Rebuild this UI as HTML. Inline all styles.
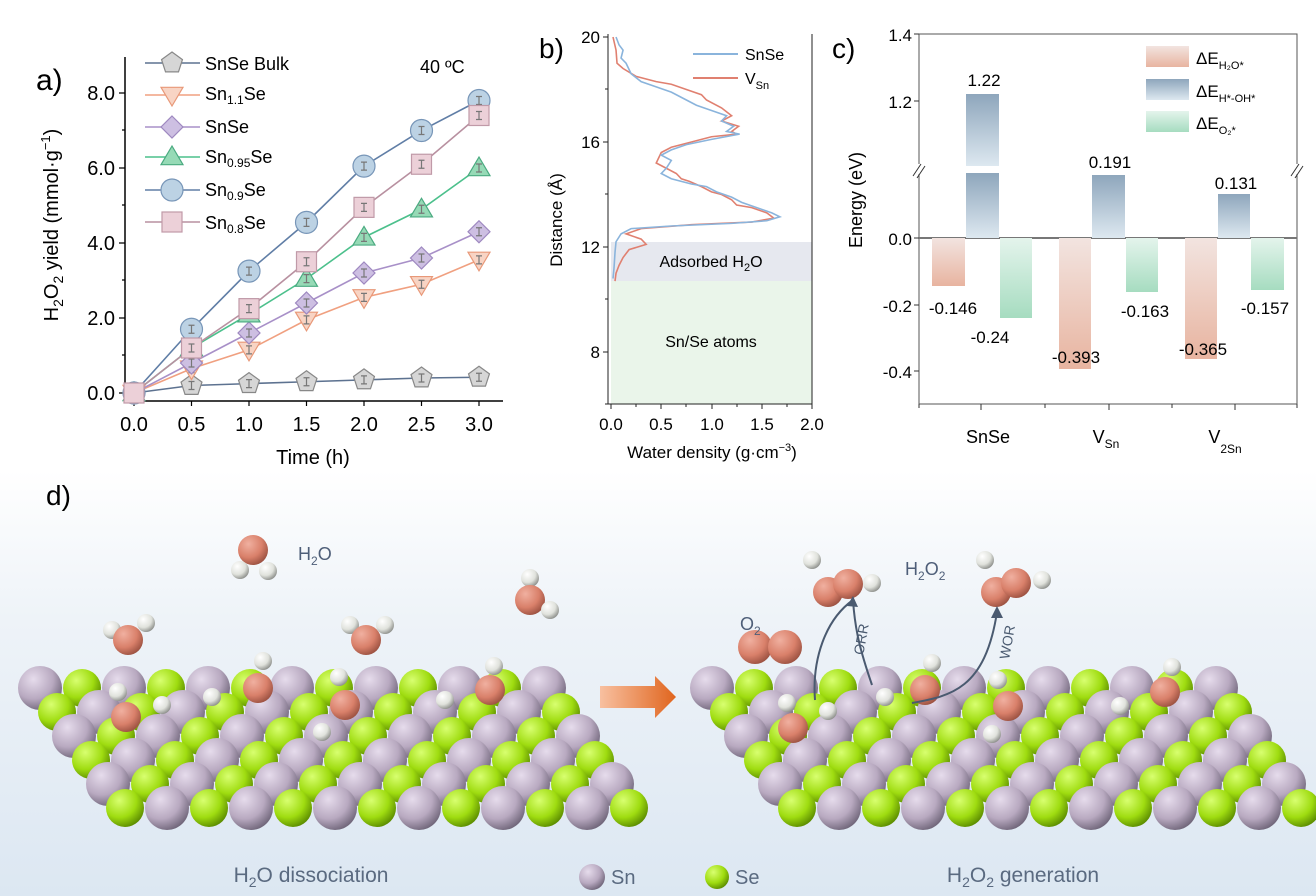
<!DOCTYPE html>
<html><head><meta charset="utf-8"><style>
html,body{margin:0;padding:0;background:#fff;}
svg{display:block;font-family:"Liberation Sans",sans-serif;}
</style></head><body>
<svg id="s" width="1316" height="896" viewBox="0 0 1316 896" xmlns="http://www.w3.org/2000/svg">
<defs>
<linearGradient id="bg" x1="0" y1="0" x2="0" y2="1">
<stop offset="0" stop-color="#ffffff"/><stop offset="0.35" stop-color="#eef3f8"/><stop offset="1" stop-color="#dce7f2"/></linearGradient>
<radialGradient id="gSn" cx="0.35" cy="0.3" r="0.75"><stop offset="0" stop-color="#e6dcec"/><stop offset="0.6" stop-color="#b8a9c0"/><stop offset="1" stop-color="#6e6478"/></radialGradient>
<radialGradient id="gSe" cx="0.35" cy="0.3" r="0.75"><stop offset="0" stop-color="#d8ff70"/><stop offset="0.6" stop-color="#9fdc10"/><stop offset="1" stop-color="#5a8a00"/></radialGradient>
<radialGradient id="gO" cx="0.35" cy="0.3" r="0.75"><stop offset="0" stop-color="#f0b0a0"/><stop offset="0.6" stop-color="#d9806a"/><stop offset="1" stop-color="#9a5040"/></radialGradient>
<radialGradient id="gH" cx="0.35" cy="0.3" r="0.75"><stop offset="0" stop-color="#ffffff"/><stop offset="0.6" stop-color="#e0e2dc"/><stop offset="1" stop-color="#8a8c88"/></radialGradient>
<linearGradient id="bo" x1="0" y1="0" x2="0" y2="1"><stop offset="0" stop-color="#f2e4e0"/><stop offset="1" stop-color="#e8b4a0"/></linearGradient>
<linearGradient id="bb" x1="0" y1="0" x2="0" y2="1"><stop offset="0" stop-color="#8ea6bc"/><stop offset="1" stop-color="#dde8f0"/></linearGradient>
<linearGradient id="bgr" x1="0" y1="0" x2="0" y2="1"><stop offset="0" stop-color="#e4f4ec"/><stop offset="1" stop-color="#a6dcc0"/></linearGradient>
<linearGradient id="arr" x1="0" y1="0" x2="1" y2="0"><stop offset="0" stop-color="#f8c0a0"/><stop offset="1" stop-color="#e0651e"/></linearGradient>
</defs>
<rect x="0" y="470" width="1316" height="426" fill="url(#bg)"/>

<!-- Panel a -->
<text x="36" y="90" font-size="30">a)</text>
<g stroke="#000" stroke-width="1.5" fill="none">
<path d="M125,57 V401 H503"/>
</g>
<g stroke="#000" stroke-width="1.2">
<path d="M125,393 h-6 M125,318 h-6 M125,243 h-6 M125,168 h-6 M125,93 h-6 M125,355 h-3 M125,280 h-3 M125,205 h-3 M125,130 h-3"/>
<path d="M134,401 v5 M191.5,401 v5 M249,401 v5 M306.5,401 v5 M364,401 v5 M421.5,401 v5 M479,401 v5"/>
</g>
<g font-size="20" text-anchor="end">
<text x="115" y="400">0.0</text><text x="115" y="325">2.0</text><text x="115" y="250">4.0</text><text x="115" y="175">6.0</text><text x="115" y="100">8.0</text>
</g>
<g font-size="20" text-anchor="middle">
<text x="134" y="431">0.0</text><text x="191.5" y="431">0.5</text><text x="249" y="431">1.0</text><text x="306.5" y="431">1.5</text><text x="364" y="431">2.0</text><text x="421.5" y="431">2.5</text><text x="479" y="431">3.0</text>
<text x="313" y="464">Time (h)</text>
</g>
<text transform="translate(58,225) rotate(-90)" font-size="20" text-anchor="middle">H<tspan font-size="14" dy="5">2</tspan><tspan dy="-5">O</tspan><tspan font-size="14" dy="5">2</tspan><tspan dy="-5"> yield (mmol·g</tspan><tspan font-size="13" dy="-8">−1</tspan><tspan dy="8">)</tspan></text>
<text x="420" y="73" font-size="18">40 ºC</text>
<g id="aseries"></g>
<g font-size="18">
<text x="205" y="70">SnSe Bulk</text>
<text x="205" y="100">Sn<tspan font-size="12" dy="4">1.1</tspan><tspan dy="-4">Se</tspan></text>
<text x="205" y="133">SnSe</text>
<text x="205" y="163">Sn<tspan font-size="12" dy="4">0.95</tspan><tspan dy="-4">Se</tspan></text>
<text x="205" y="196">Sn<tspan font-size="12" dy="4">0.9</tspan><tspan dy="-4">Se</tspan></text>
<text x="205" y="229">Sn<tspan font-size="12" dy="4">0.8</tspan><tspan dy="-4">Se</tspan></text>
</g>

<!-- Panel b -->
<text x="539" y="58" font-size="28">b)</text>
<rect x="611" y="242" width="201" height="39" fill="#e6e8ef"/>
<rect x="611" y="281" width="201" height="123" fill="#eaf5ea"/>
<g stroke="#222" stroke-width="1" fill="none"><path d="M608,34 V404 H812 V34"/></g>
<g stroke="#222" stroke-width="1">
<path d="M608,37 h-5 M608,142 h-5 M608,247 h-5 M608,352 h-5 M608,89 h-3 M608,194 h-3 M608,299 h-3 M608,404 h-3"/>
<path d="M611,404 v5 M661,404 v5 M712,404 v5 M762,404 v5 M812,404 v5 M636,404 v3 M686,404 v3 M737,404 v3 M787,404 v3"/>
</g>
<g font-size="17" text-anchor="end"><text x="600" y="43">20</text><text x="600" y="148">16</text><text x="600" y="253">12</text><text x="600" y="358">8</text></g>
<g font-size="17" text-anchor="middle"><text x="611" y="430">0.0</text><text x="661" y="430">0.5</text><text x="712" y="430">1.0</text><text x="762" y="430">1.5</text><text x="812" y="430">2.0</text>
<text x="712" y="458">Water density (g·cm<tspan font-size="11" dy="-7">−3</tspan><tspan dy="7">)</tspan></text></g>
<text transform="translate(562,220) rotate(-90)" font-size="17" text-anchor="middle">Distance (Å)</text>
<polyline id="redc" fill="none" stroke="#e08070" stroke-width="1.6"/>
<polyline id="bluec" fill="none" stroke="#8ab4dc" stroke-width="1.6"/>
<line x1="693" y1="54" x2="738" y2="54" stroke="#8ab4dc" stroke-width="2"/>
<line x1="693" y1="78" x2="738" y2="78" stroke="#e08070" stroke-width="2"/>
<text x="745" y="60" font-size="16">SnSe</text>
<text x="745" y="84" font-size="16">V<tspan font-size="11" dy="5">Sn</tspan></text>
<text x="711" y="267" font-size="16" text-anchor="middle">Adsorbed H<tspan font-size="11" dy="4">2</tspan><tspan dy="-4">O</tspan></text>
<text x="711" y="347" font-size="16" text-anchor="middle">Sn/Se atoms</text>

<!-- Panel c -->
<text x="832" y="58" font-size="28">c)</text>
<g stroke="#555" stroke-width="1" fill="none"><path d="M919,34 V404 H1297 V34 H919"/></g>
<line x1="919" y1="238" x2="1297" y2="238" stroke="#777" stroke-width="2"/>
<g stroke="#333" stroke-width="1">
<path d="M919,34 h-5 M919,101 h-5 M919,238 h-5 M919,305 h-5 M919,371 h-5"/>
<path d="M981,404 v6 M1109,404 v6 M1235,404 v6 M919,404 v4 M1045,404 v4 M1172,404 v4 M1297,404 v4"/>
</g>
<rect x="912" y="164" width="14" height="10" fill="#fff"/><rect x="1290" y="164" width="14" height="10" fill="#fff"/>
<path d="M913,176 l8,-12 M917,178 l8,-12 M1291,176 l8,-12 M1295,178 l8,-12" stroke="#333" stroke-width="1"/>
<g font-size="17" text-anchor="end"><text x="912" y="41">1.4</text><text x="912" y="108">1.2</text><text x="912" y="245">0.0</text><text x="912" y="312">-0.2</text><text x="912" y="378">-0.4</text></g>
<text transform="translate(862,200) rotate(-90)" font-size="18" text-anchor="middle">Energy (eV)</text>
<g>
<rect x="932" y="238" width="33" height="48" fill="url(#bo)"/>
<rect x="966" y="94" width="33" height="72" fill="url(#bb)"/>
<rect x="966" y="173" width="33" height="65" fill="url(#bb)"/>
<rect x="1000" y="238" width="32" height="80" fill="url(#bgr)"/>
<rect x="1059" y="238" width="32" height="131" fill="url(#bo)"/>
<rect x="1092" y="175" width="33" height="63" fill="url(#bb)"/>
<rect x="1126" y="238" width="32" height="54" fill="url(#bgr)"/>
<rect x="1185" y="238" width="32" height="121" fill="url(#bo)"/>
<rect x="1218" y="194" width="32" height="44" fill="url(#bb)"/>
<rect x="1251" y="238" width="33" height="52" fill="url(#bgr)"/>
</g>
<g font-size="17" text-anchor="middle">
<text x="984" y="86">1.22</text><text x="1110" y="168">0.191</text><text x="1236" y="189">0.131</text>
<text x="953" y="314">-0.146</text><text x="990" y="343">-0.24</text><text x="1076" y="363">-0.393</text>
<text x="1145" y="317">-0.163</text><text x="1203" y="355">-0.365</text><text x="1265" y="314">-0.157</text>
</g>
<g font-size="18" text-anchor="middle">
<text x="988" y="443">SnSe</text>
<text x="1106" y="443">V<tspan font-size="12" dy="5">Sn</tspan></text>
<text x="1225" y="443">V<tspan font-size="12" dy="10">2Sn</tspan></text>
</g>
<rect x="1146" y="46" width="43" height="21" fill="url(#bo)"/>
<rect x="1146" y="79" width="43" height="21" fill="url(#bb)"/>
<rect x="1146" y="111" width="43" height="21" fill="url(#bgr)"/>
<g font-size="17">
<text x="1196" y="64">ΔE<tspan font-size="11" dy="5">H₂O*</tspan></text>
<text x="1196" y="97">ΔE<tspan font-size="11" dy="5">H*-OH*</tspan></text>
<text x="1196" y="129">ΔE<tspan font-size="11" dy="5">O₂*</tspan></text>
</g>

<!-- Panel d -->
<text x="46" y="505" font-size="28">d)</text>
<g id="slabs"></g>
<path d="M600,686 H655 V676 L676,697 L655,718 V708 H600 Z" fill="url(#arr)"/>
<g id="mols"></g>
<g fill="none" stroke="#4a5a70" stroke-width="2">
<path d="M815,700 C812,660 825,620 853,600"/><path d="M872,685 C860,650 855,630 853,600"/>
<path d="M912,703 C950,696 985,690 997,612"/>
</g>
<path d="M847,606 L853,596 L858,607 Z M991,618 L997,606 L1003,618 Z" fill="#4a5a70"/>
<text transform="translate(866,640) rotate(-80)" font-size="14" fill="#4a5a70" text-anchor="middle">ORR</text>
<text transform="translate(1012,643) rotate(-80)" font-size="14" fill="#4a5a70" text-anchor="middle">WOR</text>
<g font-size="18" fill="#4e5e78">
<text x="298" y="560">H<tspan font-size="12" dy="5">2</tspan><tspan dy="-5">O</tspan></text>
<text x="740" y="630">O<tspan font-size="12" dy="5">2</tspan></text>
<text x="905" y="575">H<tspan font-size="12" dy="5">2</tspan><tspan dy="-5">O</tspan><tspan font-size="12" dy="5">2</tspan></text>
</g>
<g font-size="21" fill="#5a6a80" text-anchor="middle">
<text x="311" y="882">H<tspan font-size="14" dy="5">2</tspan><tspan dy="-5">O dissociation</tspan></text>
<text x="1023" y="882">H<tspan font-size="14" dy="5">2</tspan><tspan dy="-5">O</tspan><tspan font-size="14" dy="5">2</tspan><tspan dy="-5"> generation</tspan></text>
</g>
<circle cx="592" cy="877" r="13" fill="url(#gSn)"/><text x="611" y="884" font-size="20" fill="#5a6a80">Sn</text>
<circle cx="717" cy="877" r="12" fill="url(#gSe)"/><text x="735" y="884" font-size="20" fill="#5a6a80">Se</text>
</svg>
<script>
var NS="http://www.w3.org/2000/svg";
function el(p,t,a){var e=document.createElementNS(NS,t);for(var k in a)e.setAttribute(k,a[k]);p.appendChild(e);return e;}
var g=document.getElementById("aseries");
var X=function(t){return 134+t*115;},Y=function(v){return 393-v*37.5;};
var ser=[
["bulk","#5d7290","#d6d6d6","#888",[0,0.2,0.25,0.3,0.35,0.4,0.42]],
["tri","#f0a080","#f8d4c4","#e89878",[0,0.65,1.15,1.95,2.55,2.9,3.55]],
["dia","#a890c8","#cdbfe2","#9e88c0",[0,0.8,1.6,2.4,3.2,3.6,4.3]],
["up","#4cc08c","#96dab6","#4aaa80",[0,1.2,2.1,3.05,4.15,4.9,6.0]],
["cir","#607ea6","#bcd2e4","#7896b8",[0,1.7,3.25,4.55,6.05,7.0,7.8]],
["sq","#b890a0","#ecd0d8","#c09aa8",[0,1.2,2.25,3.5,4.95,6.1,7.4]]];
var legY=[63,95,127,157,190,222];
function marker(p,shape,x,y,f,s){var r=11;
 if(shape=="cir")el(p,"circle",{cx:x,cy:y,r:r,fill:f,stroke:s,"stroke-width":1.2});
 else if(shape=="sq")el(p,"rect",{x:x-r+1,y:y-r+1,width:2*r-2,height:2*r-2,fill:f,stroke:s,"stroke-width":1.2});
 else{var pts;
  if(shape=="bulk"){pts=[];for(var i=0;i<5;i++){var a=-Math.PI/2+i*2*Math.PI/5;pts.push((x+r*Math.cos(a))+","+(y+r*Math.sin(a)));}}
  else if(shape=="tri")pts=[(x-r)+","+(y-r*0.7),(x+r)+","+(y-r*0.7),x+","+(y+r*1.0)];
  else if(shape=="up")pts=[(x-r)+","+(y+r*0.7),(x+r)+","+(y+r*0.7),x+","+(y-r*1.0)];
  else pts=[x+","+(y-r),(x+r)+","+y,x+","+(y+r),(x-r)+","+y];
  el(p,"polygon",{points:pts.join(" "),fill:f,stroke:s,"stroke-width":1.2});}
}
ser.forEach(function(S,i){
 var pts=S[4].map(function(v,j){return X(j*0.5)+","+Y(v);}).join(" ");
 el(g,"polyline",{points:pts,fill:"none",stroke:S[1],"stroke-width":1.6});
});
ser.forEach(function(S,i){
 S[4].forEach(function(v,j){marker(g,S[0],X(j*0.5),Y(v),S[2],S[3]);
  if(j>0)el(g,"path",{d:"M"+(X(j*0.5)-3)+","+(Y(v)-4)+"h6M"+X(j*0.5)+","+(Y(v)-4)+"v8M"+(X(j*0.5)-3)+","+(Y(v)+4)+"h6",stroke:"#777","stroke-width":1.2});});
 el(g,"line",{x1:145,x2:200,y1:legY[i],y2:legY[i],stroke:S[1],"stroke-width":1.6});
 marker(g,S[0],172,legY[i],S[2],S[3]);
});
function bx(d){return 611+d*100.5;}function by(D){return 37+(20-D)*26.25;}
function setc(id,arr){var s=[];for(var i=0;i<arr.length;i+=2)s.push(bx(arr[i])+","+by(arr[i+1]));document.getElementById(id).setAttribute("points",s.join(" "));}
setc("bluec",[0.05,20,0.08,19.7,0.12,19.5,0.1,19.2,0.15,19,0.2,18.6,0.3,18.3,0.45,18.1,0.6,17.9,0.7,17.7,0.85,17.4,1.0,17.2,1.15,17.0,1.1,16.8,1.22,16.6,1.15,16.4,1.28,16.3,1.0,16.1,0.75,15.9,0.6,15.7,0.5,15.5,0.6,15.3,0.55,15.0,0.5,14.8,0.6,14.6,0.8,14.4,0.95,14.3,1.05,14.1,1.2,13.9,1.3,13.7,1.45,13.5,1.6,13.3,1.68,13.15,1.55,13.0,1.2,12.9,0.6,12.8,0.2,12.7,0.1,12.5,0.05,12.2,0.04,11.8,0.03,11.2,0.02,10.8]);
setc("redc",[0.02,20,0.05,19.5,0.06,19,0.12,18.8,0.25,18.5,0.45,18.3,0.6,18.2,0.75,18.0,0.9,17.8,0.95,17.6,1.1,17.3,1.2,17.0,1.1,16.8,1.27,16.6,1.2,16.4,1.25,16.3,1.0,16.2,0.8,16.0,0.6,15.8,0.5,15.6,0.45,15.2,0.55,15.0,0.65,14.8,0.7,14.6,0.78,14.5,0.9,14.3,1.0,14.1,1.1,14.0,1.2,13.8,1.25,13.6,1.4,13.5,1.55,13.3,1.62,13.1,1.4,12.95,0.8,12.85,0.3,12.7,0.15,12.5,0.3,12.3,0.35,12.1,0.18,11.9,0.12,11.6,0.08,11.3,0.05,11,0.04,10.7]);
var sl=document.getElementById("slabs");
function slab(ox){
 for(var r=0;r<6;r++){for(var c=0;c<13;c++){
  var sn=((c+r)%2==0);var x=ox+r*17+c*42, y=688+r*24;
  el(sl,"circle",{cx:x,cy:y,r:sn?22:19,fill:sn?"url(#gSn)":"url(#gSe)"});
 }}
}
slab(40);slab(712);
var m=document.getElementById("mols");
function O(x,y,r){el(m,"circle",{cx:x,cy:y,r:r||15,fill:"url(#gO)"});}
function H(x,y){el(m,"circle",{cx:x,cy:y,r:9,fill:"url(#gH)"});}
O(253,550);H(240,570);H(268,571);
H(112,630);O(128,640);H(146,623);
H(350,625);H(385,625);O(366,640);
H(530,578);O(530,600);H(550,610);
H(118,692);O(126,717);H(162,705);
H(263,661);O(258,688);
H(339,677);O(345,705);
H(494,666);O(490,690);
H(212,697);H(322,732);H(445,700);
O(755,647,17);O(785,647,17);
H(812,560);O(828,592);O(848,584);H(872,583);
H(985,560);O(996,592);O(1016,583);H(1042,580);
H(787,703);O(793,728);H(828,711);H(885,697);
H(932,663);O(925,690);H(998,680);O(1008,706);H(992,734);
H(1172,667);O(1165,692);H(1120,706);
</script>
</body></html>
